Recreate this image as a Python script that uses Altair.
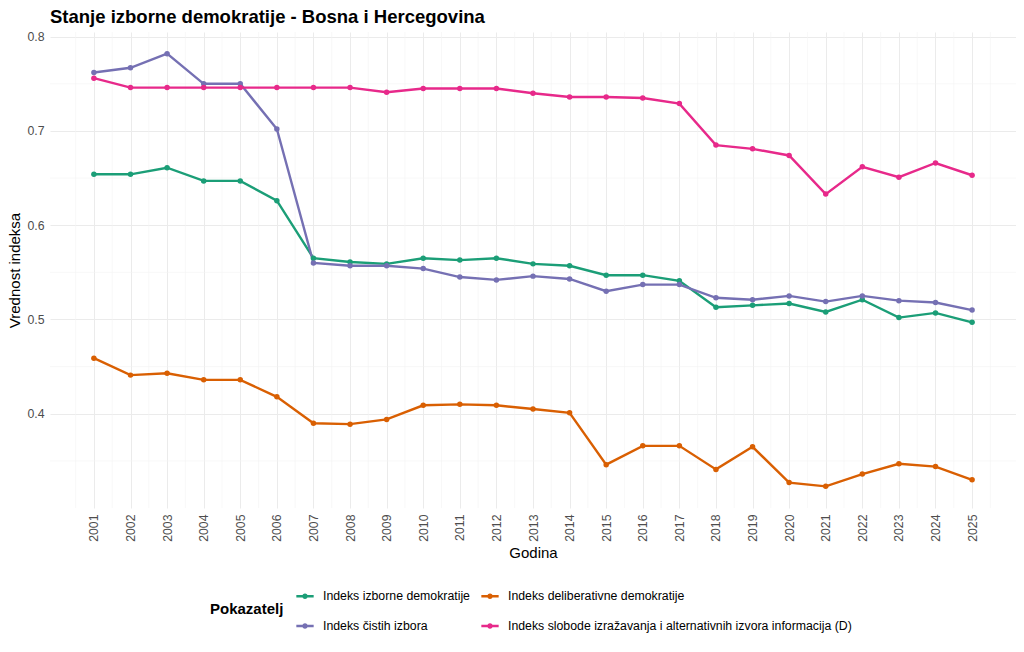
import altair as alt
import pandas as pd

years = list(range(2001, 2026))
series_names = [
    "Indeks izborne demokratije",
    "Indeks deliberativne demokratije",
    "Indeks čistih izbora",
    "Indeks slobode izražavanja i alternativnih izvora informacija (D)",
]
electoral = [0.654, 0.654, 0.661, 0.647, 0.647, 0.626, 0.565, 0.561, 0.559, 0.565,
             0.563, 0.565, 0.559, 0.557, 0.547, 0.547, 0.541, 0.513, 0.515, 0.517,
             0.508, 0.521, 0.502, 0.507, 0.497]
deliberative = [0.459, 0.441, 0.443, 0.436, 0.436, 0.418, 0.390, 0.389, 0.394, 0.409,
                0.410, 0.409, 0.405, 0.401, 0.346, 0.366, 0.366, 0.341, 0.365, 0.327,
                0.323, 0.336, 0.347, 0.344, 0.330]
clean = [0.762, 0.767, 0.782, 0.750, 0.750, 0.702, 0.560, 0.557, 0.557, 0.554,
         0.545, 0.542, 0.546, 0.543, 0.530, 0.537, 0.537, 0.523, 0.521, 0.525,
         0.519, 0.525, 0.520, 0.518, 0.510]
freedom = [0.756, 0.746, 0.746, 0.746, 0.746, 0.746, 0.746, 0.746, 0.741, 0.745,
           0.745, 0.745, 0.740, 0.736, 0.736, 0.735, 0.729, 0.685, 0.681, 0.674,
           0.633, 0.662, 0.651, 0.666, 0.653]
colors = ["#1B9E77", "#D95F02", "#7570B3", "#E7298A"]

y_ticks = [0.4, 0.5, 0.6, 0.7, 0.8]
y_minor = [0.35, 0.45, 0.55, 0.65, 0.75]
x_minor = [2000.5, 2001.5, 2002.5, 2003.5, 2004.5, 2005.5, 2006.5, 2007.5, 2008.5,
           2009.5, 2010.5, 2011.5, 2012.5, 2013.5, 2014.5, 2015.5, 2016.5, 2017.5,
           2018.5, 2019.5, 2020.5, 2021.5, 2022.5, 2023.5, 2024.5, 2025.5]

all_series = [electoral, deliberative, clean, freedom]
rows = []
for name, vals in zip(series_names, all_series):
    for yr, v in zip(years, vals):
        rows.append({"Godina": yr, "Vrednost": v, "Pokazatelj": name})
df = pd.DataFrame(rows)
df_xminor = pd.DataFrame({"Godina": x_minor})
df_yminor = pd.DataFrame({"Vrednost": y_minor})

FONT = "Liberation Sans"

x_scale = alt.Scale(domain=[1999.8, 2026.2], nice=False, zero=False)
y_scale = alt.Scale(domain=[0.30005, 0.80495], nice=False, zero=False)

x_enc = alt.X("Godina:Q", scale=x_scale,
              axis=alt.Axis(title="Godina", values=years, format="d", labelAngle=270,
                            labelPadding=6, titlePadding=4, grid=True))
y_enc = alt.Y("Vrednost:Q", scale=y_scale,
              axis=alt.Axis(title="Vrednost indeksa", values=y_ticks, format=".1f",
                            labelPadding=6, titlePadding=4, grid=True))

legend_symbol = "M-1,0L1,0M-0.18,0A0.18,0.18 0 1,0 0.18,0A0.18,0.18 0 1,0 -0.18,0"

color_enc = alt.Color(
    "Pokazatelj:N",
    scale=alt.Scale(domain=series_names, range=colors),
    legend=alt.Legend(
        title="Pokazatelj",
        orient="none",
        legendX=160,
        legendY=554,
        columns=2,
        direction="horizontal",
        titleOrient="left",
        titleAnchor="middle",
        titleBaseline="middle",
        titleFontSize=15,
        titleFontWeight="bold",
        titleColor="black",
        titleFont=FONT,
        titlePadding=11,
        labelFont=FONT,
        labelFontSize=12.3,
        labelColor="black",
        labelOffset=8,
        labelLimit=0,
        symbolType=legend_symbol,
        symbolSize=300,
        symbolStrokeWidth=2.4,
        rowPadding=13,
        columnPadding=6,
        padding=0,
    ),
)

minor_x_rules = alt.Chart(df_xminor).mark_rule(color="#F4F4F4", strokeWidth=0.6).encode(
    x=alt.X("Godina:Q", scale=x_scale)
)
minor_y_rules = alt.Chart(df_yminor).mark_rule(color="#F4F4F4", strokeWidth=0.6).encode(
    y=alt.Y("Vrednost:Q", scale=y_scale)
)

base = alt.Chart(df).encode(x=x_enc, y=y_enc, color=color_enc)
lines = base.mark_line(strokeWidth=2.4)
points = base.mark_circle(size=30, opacity=1)

chart = alt.layer(minor_x_rules, minor_y_rules, lines, points).properties(
    width=966,
    height=476,
    padding={"left": 42, "top": 24, "right": 0, "bottom": 136},
    autosize=alt.AutoSizeParams(type="none"),
    title=alt.TitleParams(
        text="Stanje izborne demokratije - Bosna i Hercegovina",
        anchor="start",
        frame="group",
        offset=4,
        fontSize=18.5,
        fontWeight="bold",
        font=FONT,
        color="black",
    ),
).configure_axis(
    domain=False,
    ticks=False,
    tickSize=0,
    gridColor="#EBEBEB",
    gridWidth=1,
    labelColor="#4D4D4D",
    labelFont=FONT,
    labelFontSize=12.3,
    titleFont=FONT,
    titleFontSize=15,
    titleFontWeight="normal",
    titleColor="black",
).configure_view(stroke=None)

chart.save("out.html", embed_options={"renderer": "svg", "actions": False})
